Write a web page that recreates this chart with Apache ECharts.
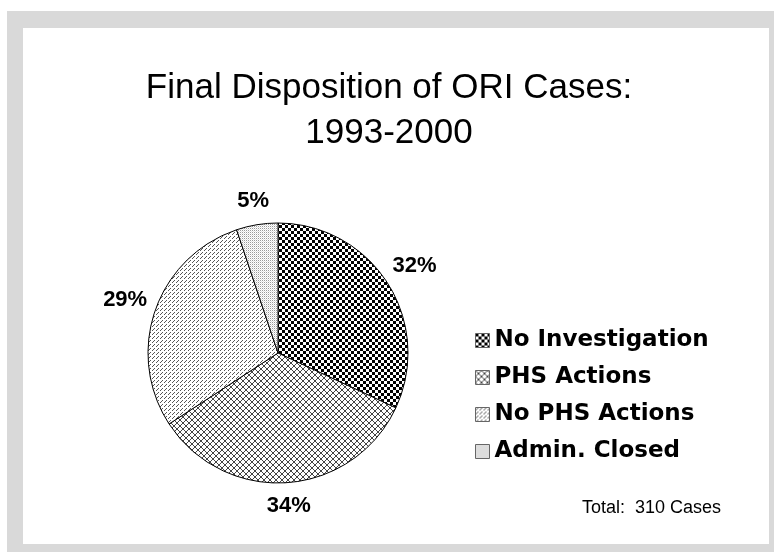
<!DOCTYPE html>
<html>
<head>
<meta charset="utf-8">
<script src="https://cdn.jsdelivr.net/npm/echarts@6/dist/echarts.min.js"></script>
<style>
  html, body { margin: 0; padding: 0; background: #fff; }
  #chart { width: 774px; height: 552px; }
</style>
</head>
<body>
<div id="chart"></div>
<script>
// data (310 cases total)
var categories = ['No Investigation', 'PHS Actions', 'No PHS Actions', 'Admin. Closed'];
var caseCounts = [99, 105, 90, 16];
var percentLabels = ['32%', '34%', '29%', '5%'];
var titleLines = ['Final Disposition of ORI Cases:', '1993-2000'];

var CX = 278, CY = 353, R = 130;

// small bitmap fills, like the old office hatch patterns
function pattern(size, draw) {
  var c = document.createElement('canvas');
  c.width = size; c.height = size;
  var ctx = c.getContext('2d');
  ctx.fillStyle = '#fff';
  ctx.fillRect(0, 0, size, size);
  draw(ctx);
  return { image: c, repeat: 'repeat' };
}

var checker = pattern(6, function (ctx) {
  ctx.fillStyle = '#000';
  ctx.fillRect(0, 0, 3, 3);
  ctx.fillRect(3, 3, 3, 3);
});
var cross = pattern(6, function (ctx) {
  ctx.fillStyle = '#444';
  for (var i = 0; i < 6; i++) {
    ctx.fillRect(i, i, 1, 1);
    ctx.fillRect(5 - i, i, 1, 1);
  }
});
var diag = pattern(4, function (ctx) {
  ctx.fillStyle = '#555';
  for (var i = 0; i < 3; i++) ctx.fillRect(2 - i, i, 1, 1);
});
var dots = pattern(2, function (ctx) {
  ctx.fillStyle = '#999';
  ctx.fillRect(0, 0, 1, 1);
  ctx.fillStyle = '#e0e0e0';
  ctx.fillRect(1, 1, 1, 1);
});
var fills = [checker, cross, diag, dots];

var total = caseCounts.reduce(function (a, b) { return a + b; }, 0);

// mid angle of each slice, clockwise from 12 o'clock
var midAngles = [];
var acc = 0;
caseCounts.forEach(function (v) {
  midAngles.push((acc + v / 2) / total * Math.PI * 2);
  acc += v;
});

var chart = echarts.init(document.getElementById('chart'));
chart.setOption({
  animation: false,
  graphic: [
    { type: 'rect', z: -10, shape: { x: 7, y: 11, width: 767, height: 541 }, style: { fill: '#d9d9d9' } },
    { type: 'rect', z: -9, shape: { x: 23, y: 28, width: 746, height: 516 }, style: { fill: '#fff' } },
    {
      type: 'text', left: 582, top: 499,
      style: { text: 'Total:  ' + total + ' Cases', fontFamily: 'Liberation Sans', fontSize: 18, fill: '#000' }
    }
  ],
  title: {
    text: titleLines.join('\n'),
    left: 384, top: 61, textAlign: 'center',
    textStyle: { fontFamily: 'Liberation Sans', fontWeight: 'normal', fontSize: 35, lineHeight: 45, color: '#000' }
  },
  legend: {
    orient: 'vertical', left: 470, top: 324,
    itemWidth: 14, itemHeight: 14, itemGap: 14,
    icon: 'rect',
    itemStyle: { borderColor: '#666', borderWidth: 1 },
    textStyle: { fontFamily: 'DejaVu Sans', fontWeight: 'bold', fontSize: 23, color: '#000' },
    data: categories
  },
  series: [{
    type: 'pie',
    center: [CX, CY],
    radius: R,
    startAngle: 90,
    clockwise: true,
    label: {
      show: true, position: 'outside',
      fontFamily: 'Liberation Sans', fontWeight: 'bold', fontSize: 22, color: '#000',
      formatter: function (p) { return percentLabels[p.dataIndex]; }
    },
    labelLine: { show: false },
    labelLayout: function (params) {
      var a = midAngles[params.dataIndex];
      var dx = Math.sin(a), dy = -Math.cos(a);
      var w = params.labelRect.width, h = params.labelRect.height;
      var d = R + 14 + 0.73 * (Math.abs(dx) * w / 2 + Math.abs(dy) * h / 2);
      return { x: CX + dx * d, y: CY + dy * d, align: 'center', verticalAlign: 'middle' };
    },
    itemStyle: { borderColor: '#000', borderWidth: 1 },
    emphasis: { disabled: true },
    data: categories.map(function (name, i) {
      return { name: name, value: caseCounts[i], itemStyle: { color: fills[i] } };
    })
  }]
});
</script>
</body>
</html>
